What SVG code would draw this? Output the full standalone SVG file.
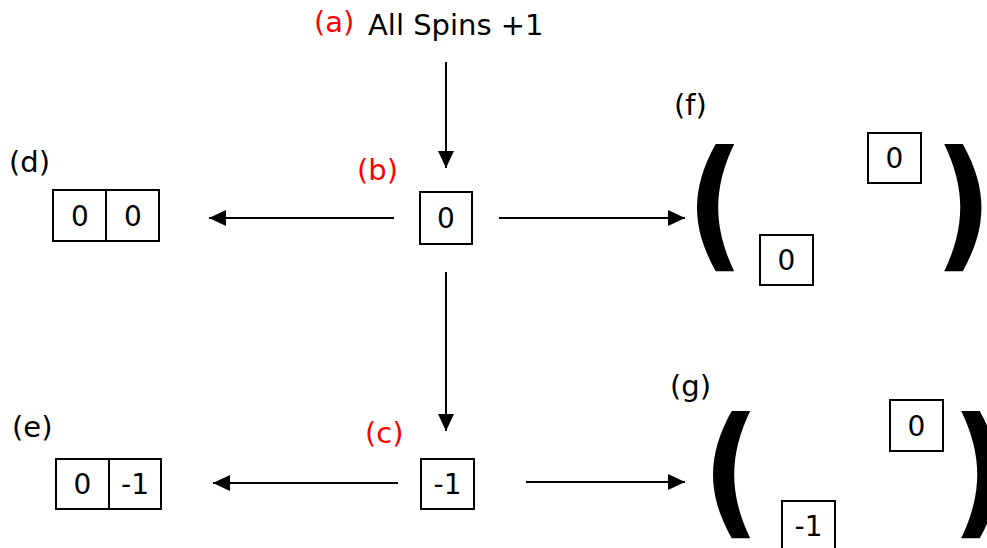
<svg xmlns="http://www.w3.org/2000/svg" width="987" height="548" viewBox="0 0 987 548">
<defs>
<style>
text{font-family:"DejaVu Sans","Liberation Sans",sans-serif;font-size:29px;fill:#000}
.red{fill:#ff0000}
.num{text-anchor:middle;font-size:28px}
.box{fill:#fff;stroke:#000;stroke-width:2}
.par{font-weight:bold;font-size:142px}
.conn line{stroke:#000;stroke-width:2;marker-end:url(#ah)}
</style>
<marker id="ah" markerUnits="userSpaceOnUse" markerWidth="18" markerHeight="16" refX="17" refY="8" orient="auto">
<path d="M0,0 L17,8 L0,16 Z" fill="#000"/>
</marker>
</defs>
<rect width="987" height="548" fill="#fff"/>
<g id="a">
<text class="red" x="314" y="32">(a)</text>
<text x="368" y="35">All Spins +1</text>
</g>
<g id="b">
<text class="red" x="357" y="180">(b)</text>
<rect class="box" x="420" y="192" width="52" height="52"/>
<text class="num" x="446" y="228">0</text>
</g>
<g id="c">
<text class="red" x="365" y="443">(c)</text>
<rect class="box" x="421" y="459" width="53" height="50"/>
<text class="num" x="447.5" y="494">-1</text>
</g>
<g id="d">
<text x="9" y="172">(d)</text>
<rect class="box" x="53" y="190" width="106" height="51"/>
<line x1="106" y1="190" x2="106" y2="241" stroke="#000" stroke-width="2"/>
<text class="num" x="80" y="225.5">0</text>
<text class="num" x="133" y="225.5">0</text>
</g>
<g id="e">
<text x="12" y="437">(e)</text>
<rect class="box" x="56" y="459" width="105" height="50"/>
<line x1="109" y1="459" x2="109" y2="509" stroke="#000" stroke-width="2"/>
<text class="num" x="82.5" y="494">0</text>
<text class="num" x="135" y="494">-1</text>
</g>
<g id="f">
<text x="674" y="115">(f)</text>
<text class="par" transform="translate(686,253) scale(0.9,1)">(</text>
<text class="par" transform="translate(934,253) scale(0.9,1)">)</text>
<rect class="box" x="868" y="133" width="53" height="50"/>
<text class="num" x="894.5" y="168">0</text>
<rect class="box" x="760" y="235" width="53" height="50"/>
<text class="num" x="786.5" y="270">0</text>
</g>
<g id="g">
<text x="670" y="396">(g)</text>
<text class="par" transform="translate(702,520) scale(0.9,1)">(</text>
<text class="par" transform="translate(951,520) scale(0.9,1)">)</text>
<rect class="box" x="890" y="400" width="53" height="51"/>
<text class="num" x="916.5" y="435.5">0</text>
<rect class="box" x="782" y="501" width="53" height="50"/>
<text class="num" x="808.5" y="536">-1</text>
</g>
<g class="conn">
<line x1="446" y1="62" x2="446" y2="168"/>
<line x1="394" y1="218" x2="209" y2="218"/>
<line x1="499" y1="218" x2="685" y2="218"/>
<line x1="446" y1="272" x2="446" y2="431"/>
<line x1="398" y1="483" x2="213" y2="483"/>
<line x1="526" y1="482" x2="685" y2="482"/>
</g>
</svg>
